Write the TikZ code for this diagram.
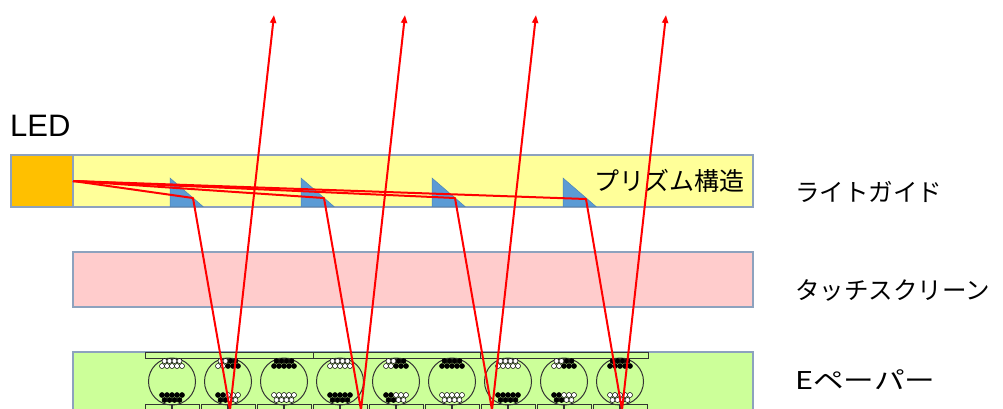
\documentclass[tikz,border=0pt]{standalone}
\usepackage{fontspec}
\usepackage{graphicx}
\setmainfont{Liberation Sans}
\newfontfamily\jpfont{Noto Sans CJK JP}
\usetikzlibrary{arrows.meta}

\definecolor{guideyellow}{HTML}{FFFF99}
\definecolor{ledorange}{HTML}{FFC000}
\definecolor{touchpink}{HTML}{FFCCCC}
\definecolor{papergreen}{HTML}{CCFF99}
\definecolor{frameblue}{HTML}{8DA2BE}
\definecolor{prismblue}{HTML}{5B9BD5}
\definecolor{inkgray}{HTML}{333333}

% one row of pigment particles: centre x, y, offsets, style left of centre, style right of centre
\newcommand\particlerow[5]{%
  \foreach \d in {#3}{%
    \ifdim \d pt<0pt
      \path[#4] ({#1+\d},#2) circle (2.5);
    \else
      \path[#5] ({#1+\d},#2) circle (2.5);
    \fi
  }}

\begin{document}
\begin{tikzpicture}[x=1pt,y=-1pt,
  layer/.style={rectangle,draw=frameblue,line width=1.5pt,anchor=north west,inner sep=0pt,outer sep=0pt},
  prism/.style={fill=prismblue,draw=prismblue!85!black,line width=0.5pt},
  capsule/.style={draw=inkgray,line width=1pt},
  electrode/.style={draw=inkgray,line width=0.8pt,fill=papergreen},
  pw/.style={fill=white,draw=black,line width=0.5pt},
  pb/.style={fill=black,draw=black,line width=0.5pt},
  ray/.style={draw=red,line width=2pt,line join=round,-{Triangle[length=8pt,width=6pt]}},
  jplabel/.style={font=\jpfont\fontsize{24.5}{28}\selectfont,anchor=west,inner sep=0pt},
]
\path[use as bounding box] (0,0) rectangle (1003,408);
\clip (0,0) rectangle (1003,408);

% LED and light guide
\node[layer,fill=guideyellow,minimum width=680pt,minimum height=52pt] (guide) at (73,155) {};
\node[layer,fill=ledorange,minimum width=62pt,minimum height=52pt] (led) at (11,155) {};
\node[anchor=base west,inner sep=0pt,font=\fontsize{31}{34}\selectfont] (ledlabel) at (10,136) {LED};

% prism structures on the underside of the guide
\foreach \px in {170,301,432,563}
  \path[prism] (\px,178) -- (\px,206.5) -- (\px+33,206.5) -- cycle;
\node[font=\jpfont\fontsize{25}{28}\selectfont,inner sep=0pt] (prismlabel) at (669,181) {プリズム構造};

% touch screen
\node[layer,fill=touchpink,minimum width=680pt,minimum height=55pt] (touch) at (73,252) {};

% e-paper
\node[layer,fill=papergreen,minimum width=680pt,minimum height=80pt] (epaper) at (73,352) {};
\foreach \bx/\ex in {145/313,313/480,480/648}
  \path[electrode] (\bx,352.5) rectangle (\ex,358);
\foreach \c in {172,228,284,340,396,452,508,564,620}{
  \path[electrode] (\c-27,404) rectangle (\c-0.5,430);
  \path[electrode] (\c+0.5,404) rectangle (\c+27,430);
}
\foreach \c/\tl/\tr/\bl/\br in {172/pw/pw/pb/pb,228/pw/pb/pb/pw,284/pb/pb/pw/pw,
                                340/pw/pw/pb/pb,396/pw/pb/pb/pw,452/pb/pb/pw/pw,
                                508/pw/pw/pb/pb,564/pw/pb/pb/pw,620/pb/pb/pw/pw}{
  \path[capsule] (\c,381.5) circle (23.5);
  \particlerow{\c}{361}{-7.5,-2.5,2.5,7.5}{\tl}{\tr}
  \particlerow{\c}{366}{-10,-5,0,5,10}{\tl}{\tr}
  \particlerow{\c}{395}{-10,-5,0,5,10}{\bl}{\br}
  \particlerow{\c}{400}{-7.5,-2.5,2.5,7.5}{\bl}{\br}
}

% layer names
\node[jplabel] (guidelabel) at (795,192) {ライトガイド};
\node[jplabel] (touchlabel) at (795,290) {タッチスクリーン};
\node[jplabel] (paperlabel) at (795,380) {\scalebox{1.25}[1]{Eペーパー}};

% light paths: LED -> prism -> e-paper -> viewer
\coordinate (src) at (73,181);
\coordinate (h1) at (193,198);  \coordinate (b1) at (230,410); \coordinate (t1) at (274,15);
\coordinate (h2) at (324,198);  \coordinate (b2) at (361,410); \coordinate (t2) at (405,15);
\coordinate (h3) at (455,198);  \coordinate (b3) at (492,410); \coordinate (t3) at (536,15);
\coordinate (h4) at (586,199);  \coordinate (b4) at (622,410); \coordinate (t4) at (666,15);
\foreach \i in {1,2,3,4}
  \draw[ray] (src) -- (h\i) -- (b\i) -- (t\i);
\end{tikzpicture}
\end{document}
